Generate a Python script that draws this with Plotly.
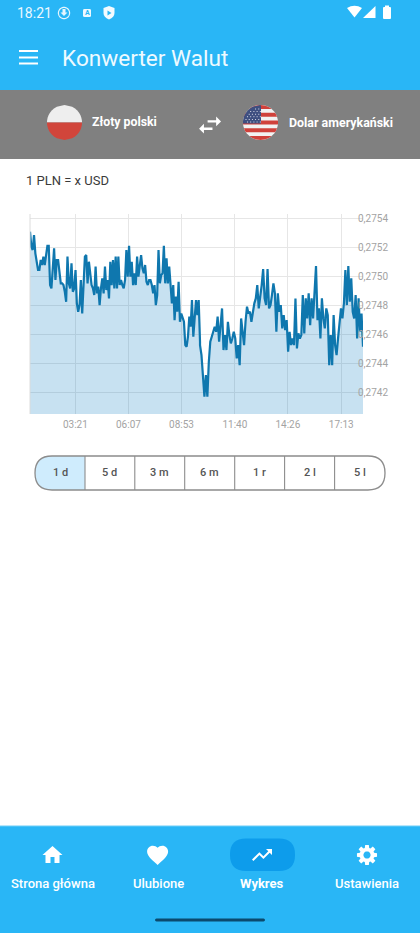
import math
import re

import pandas as pd
import plotly.graph_objects as go

W = 420
H = 933

# 00:59 - 09:51
rates_morning = [
    0.275310, 0.275207, 0.275184, 0.275287, 0.275161, 0.275115, 0.275046, 0.275046, 0.275115, 0.275080,
    0.275138, 0.275080, 0.275149, 0.275213, 0.275213, 0.274942, 0.274919, 0.275034, 0.275195, 0.274977,
    0.275115, 0.275115, 0.275023, 0.274954, 0.274954, 0.274942, 0.274896, 0.274827, 0.275138, 0.274954,
    0.274919, 0.275092, 0.274896, 0.274919, 0.275046, 0.274816, 0.274758, 0.274804, 0.274977, 0.274746,
    0.274942, 0.275138, 0.275149, 0.274954, 0.275103, 0.275034, 0.274942, 0.274919, 0.274873, 0.275069,
    0.274885, 0.274931, 0.274804, 0.274919, 0.274988, 0.274885, 0.275069, 0.274908, 0.274977, 0.274850,
    0.275103, 0.274942, 0.275115, 0.274919, 0.275138, 0.274919, 0.275138, 0.274942, 0.274977, 0.274942,
    0.274919, 0.274977, 0.275184, 0.275000, 0.275213, 0.275000, 0.275103, 0.274942, 0.275023, 0.274942,
    0.275138, 0.275000, 0.275080, 0.275149, 0.275057, 0.275023, 0.275080, 0.274965, 0.274942, 0.274977,
    0.274977, 0.274942, 0.274885, 0.274942, 0.274804, 0.274873, 0.275184, 0.274954, 0.275011, 0.275023,
    0.275213, 0.274954, 0.275126, 0.274954, 0.275069, 0.274942, 0.274816, 0.274942, 0.274700, 0.274862,
    0.274758, 0.274965, 0.274689, 0.274746, 0.274724, 0.274689, 0.274528, 0.274517, 0.274586, 0.274724,
    0.274655, 0.274839, 0.274586, 0.274758, 0.274839, 0.274735, 0.274839, 0.274551,
]

# 09:51 - 18:21
rates_afternoon = [
    0.274528, 0.274459, 0.274321, 0.274172, 0.274321, 0.274172, 0.274413, 0.274551, 0.274586, 0.274620,
    0.274655, 0.274620, 0.274724, 0.274551, 0.274700, 0.274781, 0.274494, 0.274597, 0.274494, 0.274689,
    0.274597, 0.274540, 0.274574, 0.274620, 0.274574, 0.274436, 0.274528, 0.274390, 0.274712, 0.274620,
    0.274528, 0.274689, 0.274793, 0.274746, 0.274758, 0.274689, 0.274758, 0.274816, 0.274850, 0.274942,
    0.274781, 0.274850, 0.274942, 0.275052, 0.274850, 0.274804, 0.275052, 0.274781, 0.274804, 0.274873,
    0.274954, 0.274885, 0.274620, 0.274885, 0.274758, 0.274804, 0.274643, 0.274735, 0.274632, 0.274700,
    0.274482, 0.274620, 0.274528, 0.274574, 0.274528, 0.274850, 0.274505, 0.274609, 0.274574, 0.274597,
    0.274873, 0.274609, 0.274850, 0.274712, 0.274885, 0.274666, 0.274850, 0.274712, 0.274919, 0.275073,
    0.274700, 0.274781, 0.274574, 0.274850, 0.274712, 0.274643, 0.274781, 0.274735, 0.274390, 0.274597,
    0.274390, 0.274735, 0.274528, 0.274459, 0.274574, 0.274666, 0.274781, 0.274712, 0.274816, 0.275046,
    0.274804, 0.275073, 0.274827, 0.274988, 0.274758, 0.274712, 0.274873, 0.274574, 0.274850, 0.274620,
    0.274746, 0.274517,
]

x_ticks = ["03:21", "06:07", "08:53", "11:40", "14:26", "17:13"]
y_ticks = [0.2742, 0.2744, 0.2746, 0.2748, 0.2750, 0.2752, 0.2754]
ranges = ["1 d", "5 d", "3 m", "6 m", "1 r", "2 l", "5 l"]
nav_labels = ["Strona główna", "Ulubione", "Wykres", "Ustawienia"]

DAY = "2024-01-15 "
times = list(pd.date_range(DAY + "00:59", DAY + "09:51", periods=len(rates_morning)))
times += list(pd.date_range(DAY + "09:51", DAY + "18:21", periods=len(rates_afternoon)))
rates = rates_morning + rates_afternoon

BLUE = "#29b6f6"
GREY_TEXT = "#a3a3a3"
FONT = "Roboto"

shapes = []
notes = []


def to_paper(d, scale=1, dx=0, dy=0):
    # path written in screen pixels -> paper fractions
    nums = re.compile(r"(-?\d+\.?\d*)[ ,](-?\d+\.?\d*)")

    def swap(m):
        x = float(m.group(1)) * scale + dx
        y = float(m.group(2)) * scale + dy
        return f"{x / W:.5f},{1 - y / H:.5f}"

    return nums.sub(swap, d)


def add_path(d, fill="white", line=None, width=0, scale=1, dx=0, dy=0):
    shapes.append(dict(
        type="path", xref="paper", yref="paper", path=to_paper(d, scale, dx, dy),
        fillcolor=fill, line=dict(color=line or "rgba(0,0,0,0)", width=width),
    ))


def add_rect(x0, y0, x1, y1, fill):
    add_path(f"M{x0} {y0} L{x1} {y0} L{x1} {y1} L{x0} {y1} Z", fill=fill)


def add_line(x0, y0, x1, y1, color="white", width=2):
    add_path(f"M{x0} {y0} L{x1} {y1}", fill="rgba(0,0,0,0)", line=color, width=width)


def round_rect(x0, y0, x1, y1, r):
    return (f"M{x0 + r} {y0} L{x1 - r} {y0} Q{x1} {y0} {x1} {y0 + r} L{x1} {y1 - r} Q{x1} {y1} {x1 - r} {y1} "
            f"L{x0 + r} {y1} Q{x0} {y1} {x0} {y1 - r} L{x0} {y0 + r} Q{x0} {y0} {x0 + r} {y0} Z")


def disc(cx, cy, r, n=48):
    pts = [(cx + r * math.cos(2 * math.pi * i / n), cy + r * math.sin(2 * math.pi * i / n)) for i in range(n)]
    return "M" + " L".join(f"{a:.2f} {b:.2f}" for a, b in pts) + " Z"


def band(cx, cy, r, y0, y1, x_max=None, n=10):
    # part of a disc between two heights, for the flags
    left, right = [], []
    for i in range(n + 1):
        y = y0 + (y1 - y0) * i / n
        half = math.sqrt(max(r * r - (y - cy) ** 2, 0))
        left.append((cx - half, y))
        right.append((min(cx + half, x_max) if x_max else cx + half, y))
    pts = left + right[::-1]
    return "M" + " L".join(f"{a:.2f} {b:.2f}" for a, b in pts) + " Z"


def text(x, y, s, size=12, color="white", anchor="left", weight=400):
    # annotations carry a little padding, pull left-aligned ones back
    notes.append(dict(
        x=x / W, y=1 - y / H, xref="paper", yref="paper", text=s, showarrow=False,
        xanchor=anchor, yanchor="middle", xshift=-2.5 if anchor == "left" else 0, yshift=0,
        font=dict(family=FONT, size=size, color=color, weight=weight),
    ))


# header blocks
add_rect(0, 0, W, 90, BLUE)
add_rect(0, 90, W, 159, "#808080")
add_rect(0, 826, W, H, BLUE)
add_rect(0, 825.5, W, 826.5, "#6fcdf8")

# status bar
text(17, 13, "18:21", size=14, color="#eaf8ff")
add_path(disc(64, 13, 5.6), fill="rgba(0,0,0,0)", line="#e6f6fe", width=1.2)
add_path("M62.5 9 L65.5 9 L65.5 12.5 L67.5 12.5 L64 16 L60.5 12.5 L62.5 12.5 Z", fill="#e6f6fe")
add_path(round_rect(83, 9, 91, 17, 1.5), fill="#eef9ff")
text(87, 13, "A", size=7, color=BLUE, anchor="center", weight=700)
add_path("M103.5 8 L109 6 L114.5 8 L114.5 13 Q114.5 17 109 19.5 Q103.5 17 103.5 13 Z", fill="#f2fbff")
add_path("M107.5 10.5 L111.5 13 L107.5 15.5 Z", fill=BLUE)
add_path("M347 8 Q354.5 3.5 362 8 L354.5 17.5 Z", fill="white")
add_path("M363 18 L375.5 18 L375.5 6 Z", fill="white")
add_path(round_rect(383, 7, 391, 19, 1), fill="white")
add_rect(385, 5.5, 389, 7.5, "white")

# app bar
for y in [51, 57.5, 63.5]:
    add_line(19, y, 38, y, width=2)
text(62, 58, "Konwerter Walut", size=22.6, color="#eefaff")

# currency row
add_path(band(64.5, 122.5, 17.5, 105, 122.5), fill="#eeeeee")
add_path(band(64.5, 122.5, 17.5, 122.5, 140), fill="#d1453b")
text(92.5, 122.5, "Złoty polski", size=12.3, weight=700)
add_path("M6.99 11 L3 15 L6.99 19 L6.99 16 L14 16 L14 14 L6.99 14 Z M21 9 L17 5 L17 8 L10 8 L10 10 L17 10 L17 13 Z",
         scale=1.22, dx=195.4, dy=110.4)

add_path(disc(260.5, 122.5, 17.5), fill="#f2f2f2")
for i in range(0, 9, 2):
    add_path(band(260.5, 122.5, 17.5, 105 + i * 35 / 9, 105 + (i + 1) * 35 / 9), fill="#d0413b")
add_path(band(260.5, 122.5, 17.5, 105, 123.5, x_max=261), fill="#3e4f80")
for row in range(6):
    for col in range(5):
        sx = 246 + col * 3.2 + (row % 2) * 1.5
        sy = 109 + row * 2.6
        if (sx - 260.5) ** 2 + (sy - 122.5) ** 2 < 15.5 ** 2:
            add_path(disc(sx, sy, 0.6, n=6), fill="#e8e8f0")
text(289, 122.5, "Dolar amerykański", size=12.4, weight=700)

text(26, 180.5, "1 PLN = x USD", size=13, color="#3a3a3a")

# left edge of the chart
add_line(30, 214, 30, 414, color="#dcdcdc", width=1)

# range selector
add_path("M52 456 L85 456 L85 490 L52 490 Q35 490 35 473 Q35 456 52 456 Z", fill="#cfecfd")
add_path(round_rect(35, 456, 385, 490, 17), fill="rgba(0,0,0,0)", line="#8c8c8c", width=1.3)
seg_edges = [35, 85, 134.8, 184.7, 234.7, 284.6, 334.6, 385]
for edge in seg_edges[1:-1]:
    add_line(edge, 456, edge, 490, color="#8c8c8c", width=1.1)
for i, label in enumerate(ranges):
    text((seg_edges[i] + seg_edges[i + 1]) / 2, 473, label, size=11, color="#555555", anchor="center", weight=500)

# bottom navigation
add_path(round_rect(230, 838.5, 295, 871, 16), fill="#0d9ceb")
add_path("M10 20 L10 14 L14 14 L14 20 L19 20 L19 12 L22 12 L12 3 L2 12 L5 12 L5 20 Z", dx=40.5, dy=843)
add_path("M12 21.35 L10.55 20.03 C5.4 15.36 2 12.28 2 8.5 C2 5.42 4.42 3 7.5 3 C9.24 3 10.91 3.81 12 5.09 "
         "C13.09 3.81 14.76 3 16.5 3 C19.58 3 22 5.42 22 8.5 C22 12.28 18.6 15.36 13.45 20.04 Z",
         scale=1.05, dx=145, dy=842.5)
add_path("M16 6 L18.29 8.29 L13.41 13.17 L9.41 9.17 L2 16.59 L3.41 18 L9.41 12 L13.41 16 L19.71 9.71 L22 12 L22 6 Z",
         dx=250, dy=843)
gear = []
for i in range(8):
    mid = i * math.pi / 4
    for off, r in [(-0.30, 7.4), (-0.18, 10.2), (0.18, 10.2), (0.30, 7.4)]:
        gear.append((367 + r * math.cos(mid + off), 855 + r * math.sin(mid + off)))
add_path("M" + " L".join(f"{a:.2f} {b:.2f}" for a, b in gear) + " Z " + disc(367, 855, 3.6, n=20))
nav_x = [53, 158, 262, 367]
for x, label in zip(nav_x, nav_labels):
    text(x, 883.5, label, size=13, anchor="center", weight=700 if label == "Wykres" else 500)
add_path(round_rect(155, 918.5, 265, 921.5, 1.5), fill="#0b4a6e")

fig = go.Figure()
fig.add_trace(go.Scatter(
    x=times, y=rates, mode="lines", fill="tozeroy",
    line=dict(color="#0f77ae", width=2.2), fillcolor="rgba(2,119,189,0.22)", hoverinfo="skip",
))

fig.update_layout(
    width=W, height=H, autosize=False, margin=dict(l=0, r=0, t=0, b=0),
    paper_bgcolor="white", plot_bgcolor="white", showlegend=False,
    separators=", ", font=dict(family=FONT),
    shapes=shapes, annotations=notes,
    xaxis=dict(
        domain=[30 / W, 363 / W], range=[DAY + "00:59", DAY + "18:21"], type="date",
        tickvals=[DAY + t for t in x_ticks], tickformat="%H:%M",
        showgrid=True, gridcolor="#e6e6e6", gridwidth=1, zeroline=False, showline=False, ticks="",
        tickfont=dict(size=10, color=GREY_TEXT, family=FONT), ticklabelstandoff=3,
    ),
    yaxis=dict(
        domain=[1 - 414 / H, 1 - 214 / H], range=[0.274053, 0.275432], side="right",
        tickvals=y_ticks, tickformat=".4f",
        showgrid=True, gridcolor="#e6e6e6", gridwidth=1, zeroline=False, showline=False, ticks="",
        tickfont=dict(size=10, color=GREY_TEXT, family=FONT), ticklabelstandoff=-6,
    ),
)

fig.write_html("out.html", config=dict(displayModeBar=False), post_script="document.body.style.margin='0';")
